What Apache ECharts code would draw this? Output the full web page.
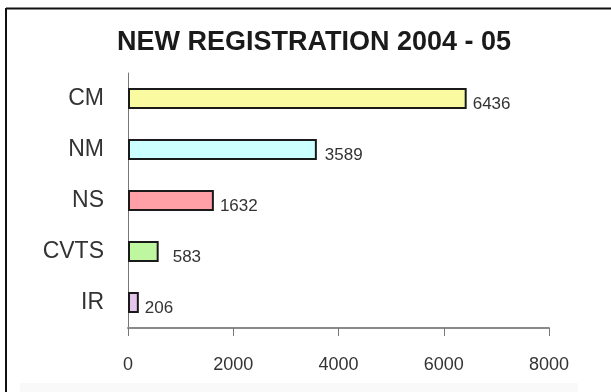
<!DOCTYPE html>
<html>
<head>
<meta charset="utf-8">
<style>
  html, body { margin: 0; padding: 0; background: #ffffff; }
  #chart { width: 611px; height: 392px; }
</style>
<script src="https://cdn.jsdelivr.net/npm/echarts@6/dist/echarts.min.js"></script>
</head>
<body>
<div id="chart"></div>
<script>
// New registrations by scheme, 2004-05
const categories = ['CM', 'NM', 'NS', 'CVTS', 'IR'];
const registrations = [6436, 3589, 1632, 583, 206];
const barColors = ['#fafaa0', '#ccffff', '#ff9fa6', '#bff7a0', '#e4c6ec'];
const labelGaps = [6, 8, 6, 14, 6];
const xTicks = [0, 2000, 4000, 6000, 8000];

const chart = echarts.init(document.getElementById('chart'), null, { renderer: 'canvas' });

const fontFamily = '"Liberation Sans", Arial, sans-serif';

chart.setOption({
  backgroundColor: '#ffffff',
  animation: false,
  title: {
    text: 'NEW REGISTRATION 2004 - 05',
    left: 112,
    top: 24,
    textStyle: {
      fontFamily: fontFamily,
      fontSize: 27,
      fontWeight: 'bold',
      color: '#1a1a1a'
    }
  },
  graphic: [
    // outer frame: top and left rules
    { type: 'line', shape: { x1: 6, y1: 8.5, x2: 611, y2: 8.5 }, style: { stroke: '#111', lineWidth: 2 } },
    { type: 'line', shape: { x1: 6, y1: 8, x2: 6, y2: 392 }, style: { stroke: '#111', lineWidth: 2 } },
    // faint band along the bottom edge
    { type: 'rect', shape: { x: 20, y: 383, width: 558, height: 9 }, style: { fill: '#f9f9f9' } }
  ],
  grid: {
    left: 128,
    right: 62,
    top: 73,
    bottom: 64,
    containLabel: false
  },
  xAxis: {
    type: 'value',
    min: xTicks[0],
    max: xTicks[xTicks.length - 1],
    interval: xTicks[1] - xTicks[0],
    splitLine: { show: false },
    axisLine: { show: true, lineStyle: { color: '#8a8a8a', width: 2 } },
    axisTick: { show: true, length: 8, lineStyle: { color: '#777', width: 1 } },
    axisLabel: {
      margin: 28,
      fontFamily: fontFamily,
      fontSize: 18,
      color: '#333',
      formatter: (v) => String(v)
    }
  },
  yAxis: {
    type: 'category',
    data: categories,
    inverse: true,
    axisLine: { show: true, lineStyle: { color: '#777', width: 1 } },
    axisTick: { show: false },
    axisLabel: {
      margin: 24,
      fontFamily: fontFamily,
      fontSize: 23,
      color: '#333'
    }
  },
  series: [{
    type: 'bar',
    barWidth: 21,
    data: registrations.map((v, i) => ({
      value: v,
      itemStyle: { color: barColors[i] },
      label: { distance: labelGaps[i] }
    })),
    itemStyle: { borderColor: '#1a1a1a', borderWidth: 2 },
    label: {
      show: true,
      position: 'right',
      fontFamily: fontFamily,
      fontSize: 17,
      color: '#333',
      offset: [0, 6]
    }
  }]
});
</script>
</body>
</html>
